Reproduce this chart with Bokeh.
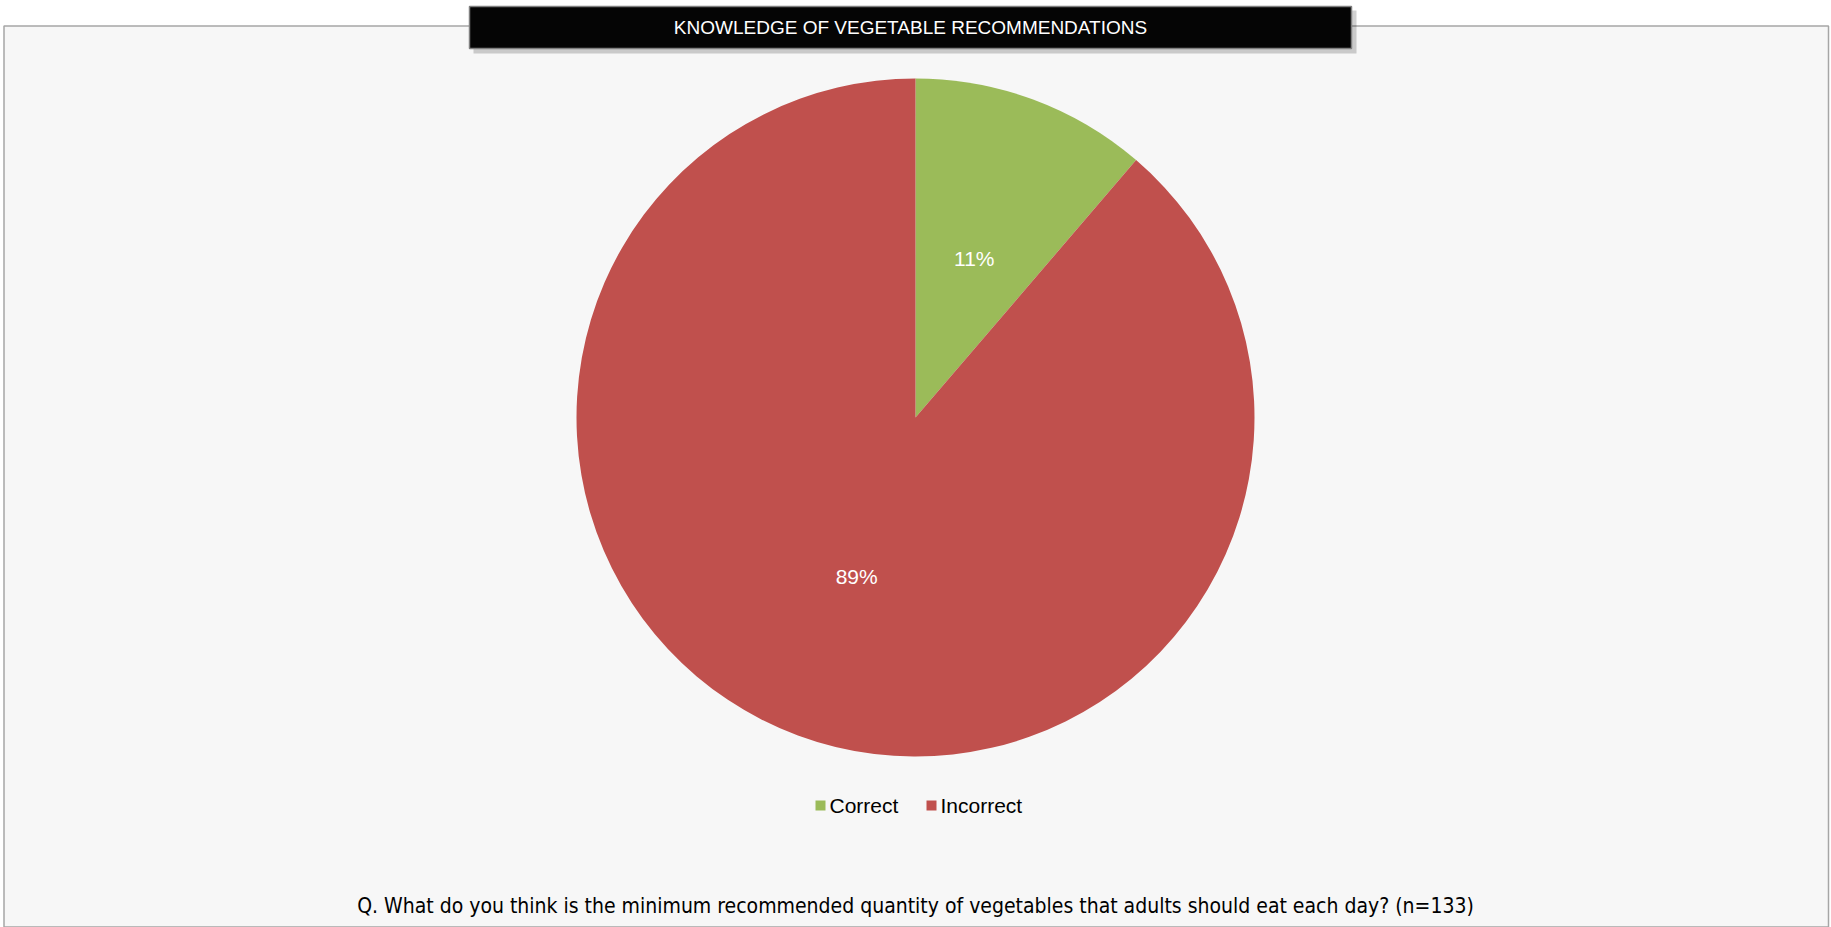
import math
from bokeh.plotting import figure
from bokeh.models import Range1d, ColumnDataSource
from bokeh.core.properties import value
from bokeh.embed import file_html
from bokeh.resources import INLINE

# ---- data ----
categories = ["Correct", "Incorrect"]
counts = [15, 118]
colors = ["#9BBB59", "#C0504D"]
title_text = "KNOWLEDGE OF VEGETABLE RECOMMENDATIONS"
footnote = "Q. What do you think is the minimum recommended quantity of vegetables that adults should eat each day? (n=133)"

W, H = 1831, 927
p = figure(width=W, height=H, output_backend="svg", toolbar_location=None,
           x_range=Range1d(0, W), y_range=Range1d(0, H), min_border=0)
p.axis.visible = False
p.grid.visible = False
p.outline_line_color = None
p.background_fill_color = "white"
p.border_fill_color = "white"

def Y(ys):
    return H - ys

# outer frame
p.quad(left=[3.5], right=[1828], top=[Y(25.5)], bottom=[Y(926.5)],
       fill_color="#F7F7F7", line_color="#A6A6A6", line_width=1.5)

# pie
cx, cy, R = 915, Y(417), 339
total = sum(counts)
starts, ends, mids = [], [], []
acc = 0.0
for c in counts:
    a0 = math.pi / 2 - 2 * math.pi * acc / total
    acc += c
    a1 = math.pi / 2 - 2 * math.pi * acc / total
    starts.append(a0)
    ends.append(a1)
    mids.append((a0 + a1) / 2)
src = ColumnDataSource(dict(start=starts, end=ends, color=colors,
                            x=[cx] * len(counts), y=[cy] * len(counts)))
p.wedge(x="x", y="y", radius=R, start_angle="start", end_angle="end",
        direction="clock", fill_color="color", line_color=None, source=src)

# percentage labels
lab_r = 0.5 * R
labels = [f"{round(100 * c / total)}%" for c in counts]
lx = [cx + lab_r * math.cos(m) for m in mids]
ly = [cy + lab_r * math.sin(m) for m in mids]
p.text(x=lx, y=ly, text=labels, text_color="white", text_font=value("Liberation Sans"),
       text_font_size="21px", text_align="center", text_baseline="middle")

# legend
leg_x = [820, 931]
leg_y = Y(805)
p.scatter(x=leg_x, y=[leg_y] * 2, marker="square", size=10, fill_color=colors, line_color=None)
p.text(x=[x + 9 for x in leg_x], y=[leg_y] * 2, text=categories, text_color="#000000",
       text_font=value("Liberation Sans"), text_font_size="21px",
       text_align="left", text_baseline="middle")

# title box with shadow
p.quad(left=[473], right=[1356], top=[Y(10)], bottom=[Y(53)],
       fill_color="#000000", fill_alpha=0.18, line_color=None)
p.quad(left=[469], right=[1351], top=[Y(6)], bottom=[Y(48)],
       fill_color="#050505", line_color="#808080", line_width=1.5)
p.text(x=[910], y=[Y(27)], text=[title_text], text_color="white",
       text_font=value("Liberation Sans"), text_font_size="19px",
       text_align="center", text_baseline="middle")

# footnote
p.text(x=[915], y=[Y(905)], text=[footnote], text_color="#000000",
       text_font=value("DejaVu Sans Condensed"), text_font_size="21px",
       text_align="center", text_baseline="middle")

open("out.html", "w").write(file_html(p, INLINE))
